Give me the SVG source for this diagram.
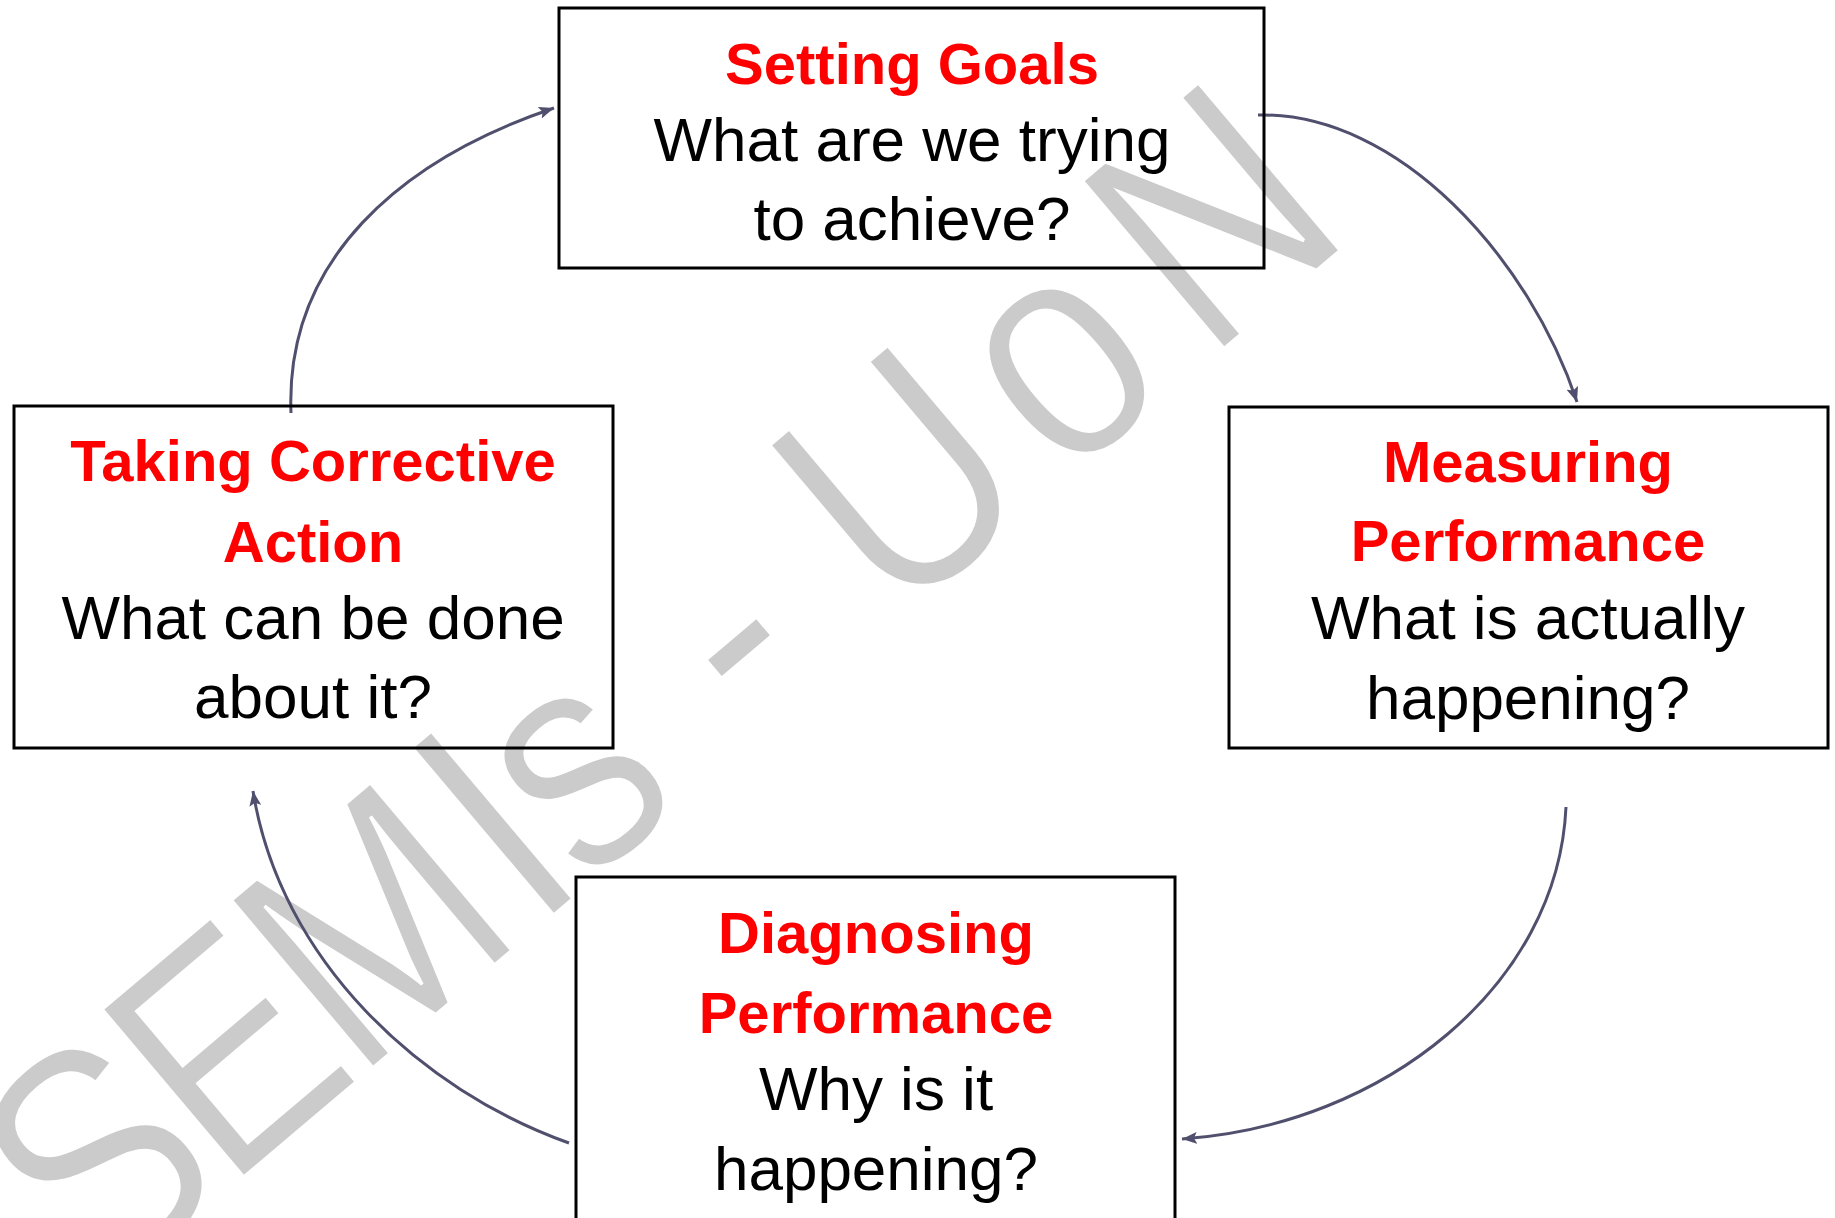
<svg xmlns="http://www.w3.org/2000/svg" width="1835" height="1218" viewBox="0 0 1835 1218">
  <style>
    .box { fill: none; stroke: #000000; stroke-width: 3; }
    .title { font-family: "Liberation Sans", Arial, sans-serif; font-weight: bold; font-size: 58px; fill: #ff0000; text-anchor: middle; }
    .body { font-family: "Liberation Sans", Arial, sans-serif; font-size: 62px; fill: #000000; text-anchor: middle; }
    .conn { fill: none; stroke: #50506e; stroke-width: 3; marker-end: url(#arrow); }
    .wm { font-family: "Liberation Sans", Arial, sans-serif; font-size: 320px; fill: #cbcbcb; stroke: #ffffff; stroke-width: 4; paint-order: fill stroke; }
  </style>
  <defs>
    <marker id="arrow" markerUnits="userSpaceOnUse" markerWidth="16" markerHeight="12" refX="15" refY="6" orient="auto">
      <path d="M0,0 L15,6 L0,12 L3,6 z" fill="#50506e"/>
    </marker>
  </defs>
  <rect x="0" y="0" width="1835" height="1218" fill="#ffffff"/>

  <g id="watermark" transform="translate(249,1173) rotate(-40.2) scale(0.85,1)">
    <text class="wm" x="-233 -34 165 440 518 786 996 1255 1476" y="0">SEMIs-UoN</text>
  </g>

  <g id="connectors">
    <path class="conn" d="M1258,115 C1400,112 1530,260 1577,402"/>
    <path class="conn" d="M1566,807 C1558,985 1385,1125 1182,1139"/>
    <path class="conn" d="M569,1143 C420,1090 280,960 253,791"/>
    <path class="conn" d="M291,413 C285,260 400,160 554,108"/>
  </g>

  <g id="setting-goals">
    <rect class="box" x="559" y="8" width="705" height="260"/>
    <text class="title" x="912" y="84">Setting Goals</text>
    <text class="body" x="912" y="161">What are we trying</text>
    <text class="body" x="912" y="240">to achieve?</text>
  </g>

  <g id="measuring-performance">
    <rect class="box" x="1229" y="407" width="599" height="341"/>
    <text class="title" x="1528" y="482">Measuring</text>
    <text class="title" x="1528" y="561">Performance</text>
    <text class="body" x="1528" y="639">What is actually</text>
    <text class="body" x="1528" y="719">happening?</text>
  </g>

  <g id="diagnosing-performance">
    <rect class="box" x="576" y="877" width="599" height="400"/>
    <text class="title" x="876" y="953">Diagnosing</text>
    <text class="title" x="876" y="1033">Performance</text>
    <text class="body" x="876" y="1110">Why is it</text>
    <text class="body" x="876" y="1190">happening?</text>
  </g>

  <g id="taking-corrective-action">
    <rect class="box" x="14" y="406" width="599" height="342"/>
    <text class="title" x="313" y="481">Taking Corrective</text>
    <text class="title" x="313" y="562">Action</text>
    <text class="body" x="313" y="639">What can be done</text>
    <text class="body" x="313" y="718">about it?</text>
  </g>
</svg>
